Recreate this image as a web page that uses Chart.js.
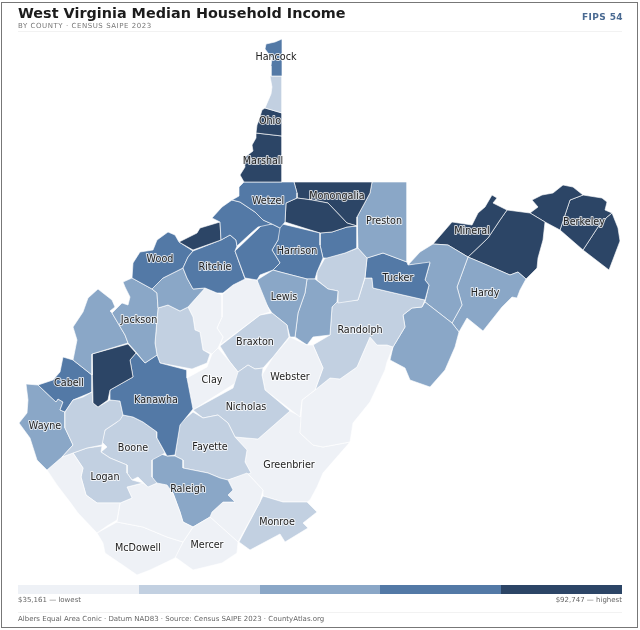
<!DOCTYPE html>
<html>
<head>
<meta charset="utf-8">
<title>West Virginia Median Household Income</title>
<script src="https://cdn.jsdelivr.net/npm/chart.js@4/dist/chart.umd.min.js"></script>
<style>
  html, body { margin: 0; padding: 0; background: #fff; }
  body { width: 640px; height: 630px; position: relative; overflow: hidden; font-family: "DejaVu Sans", sans-serif; }
  #frame { position: absolute; left: 1px; top: 2px; width: 635px; height: 624px; border: 1px solid #777; }
  #map { position: absolute; left: 0; top: 0; }
  .txt { position: absolute; white-space: nowrap; }
  #title { left: 18px; top: 5px; font-size: 14.4px; font-weight: bold; color: #1c1c1c; }
  #sub { left: 18px; top: 22px; font-size: 7px; letter-spacing: .55px; color: #777; }
  #fips { right: 17px; top: 12px; font-size: 9px; font-weight: bold; letter-spacing: .4px; color: #4a6a92; }
  .rule { position: absolute; left: 18px; width: 604px; height: 1px; background: #f2f2f2; }
  #ramp { position: absolute; left: 18px; top: 585px; width: 604px; height: 9px; display: flex; }
  #ramp span { flex: 1; }
  #low { left: 18px; top: 596px; font-size: 7px; color: #666; }
  #high { right: 18px; top: 596px; font-size: 7px; color: #666; }
  #foot { left: 18px; top: 615px; font-size: 7px; color: #666; }
</style>
</head>
<body>
<canvas id="map" width="640" height="630"></canvas>
<div id="frame"></div>
<div class="txt" id="title">West Virginia Median Household Income</div>
<div class="txt" id="sub">BY COUNTY · CENSUS SAIPE 2023</div>
<div class="txt" id="fips">FIPS 54</div>
<div class="rule" style="top:31px"></div>
<div id="ramp"></div>
<div class="txt" id="low">$35,161 — lowest</div>
<div class="txt" id="high">$92,747 — highest</div>
<div class="rule" style="top:612px"></div>
<div class="txt" id="foot">Albers Equal Area Conic · Datum NAD83 · Source: Census SAIPE 2023 · CountyAtlas.org</div>

<script>
// income class colours, lowest to highest
const CLASS_COLORS = ['#eef1f6', '#c2d0e1', '#8aa7c7', '#5379a6', '#2c4566'];

// county outlines in map units
const HANCOCK = [282,39, 275,42, 266,44, 265,49, 268,53, 272,58, 271,66, 271,76, 282,76];
const BROOKE = [270,76, 282,76, 282,113, 265,108, 271,94, 272,87];
const OHIO = [262,110, 265,108, 282,113, 282,136, 256,133, 257,125, 259,120];
const MARSHALL = [256,133, 282,136, 282,182, 244,182, 240,175, 245,167, 244,158, 253,151, 252,145, 256,138];
const WETZEL = [244,182, 294,182, 297,193, 297,198, 286,203, 285,222, 280,228, 272,224, 263,220, 255,212, 240,202, 232,200, 239,196, 239,187];
const TYLER = [232,200, 240,202, 255,212, 263,220, 272,224, 258,227, 250,234, 237,246, 236,240, 230,235, 221,240, 220,222, 212,218, 222,207];
const PLEASANTS = [220,222, 221,240, 193,250, 179,242, 197,233, 200,228];
const DODDRIDGE = [235,251, 257,230, 263,224, 272,224, 280,228, 278,240, 272,250, 280,263, 273,270, 260,275, 257,280, 245,278];
const RITCHIE = [193,251, 221,240, 230,235, 236,240, 237,246, 235,251, 245,279, 233,285, 223,293, 217,293, 205,288, 193,289, 187,278, 183,268, 188,257];
const WOOD = [179,242, 193,251, 188,257, 183,268, 163,278, 152,289, 132,278, 133,263, 140,252, 153,250, 157,240, 168,232, 175,235];
const WIRT = [183,268, 187,278, 193,289, 205,288, 188,307, 180,311, 168,305, 158,308, 157,293, 152,289, 163,278];
const JACKSON = [123,282, 132,278, 152,289, 157,293, 158,308, 155,343, 157,355, 145,363, 136,352, 128,343, 125,335, 112,313, 122,303, 128,305, 130,297, 125,287];
const MASON = [98,289, 103,293, 112,300, 115,307, 110,311, 112,313, 125,335, 128,343, 92,354, 92,375, 73,360, 77,340, 73,327, 83,312, 88,298];
const PUTNAM = [92,354, 128,344, 136,353, 130,360, 133,377, 110,390, 108,400, 98,407, 93,403];
const KANAWHA = [136,353, 145,363, 157,355, 160,363, 187,370, 187,378, 193,409, 180,425, 175,455, 167,456, 157,438, 157,432, 143,422, 133,417, 123,415, 120,401, 110,400, 110,390, 133,377, 130,360];
const LINCOLN = [92,392, 93,403, 98,407, 110,400, 120,401, 123,415, 120,420, 105,430, 102,445, 87,448, 73,453, 62,457, 73,445, 65,428, 65,412, 73,400, 83,397];
const CABELL = [63,357, 73,360, 92,375, 92,392, 73,400, 65,412, 60,410, 63,402, 58,399, 56,402, 38,385, 53,380, 60,372];
const WAYNE = [26,384, 38,385, 56,402, 58,399, 63,402, 60,410, 65,412, 65,428, 73,445, 62,457, 47,470, 37,460, 30,438, 19,423, 27,413, 28,400];
const MINGO = [47,470, 62,457, 73,453, 83,468, 81,477, 86,495, 97,503, 120,503, 117,520, 107,526, 97,533, 78,513, 70,502, 57,485];
const LOGAN = [73,453, 87,448, 102,446, 101,452, 110,458, 127,465, 127,473, 132,480, 143,483, 127,487, 132,498, 120,503, 97,503, 86,495, 81,477, 83,468];
const BOONE = [123,415, 133,417, 143,422, 157,432, 157,438, 165,453, 152,460, 152,477, 157,483, 148,487, 138,477, 132,480, 127,473, 127,465, 110,458, 101,452, 107,447, 102,442, 105,430, 117,422];
const WYOMING = [127,487, 143,483, 148,487, 157,483, 167,485, 173,493, 180,512, 183,522, 193,527, 183,542, 167,537, 143,527, 117,522, 120,503, 132,498];
const MCDOWELL = [97,533, 117,522, 143,527, 167,537, 183,542, 175,558, 150,570, 137,575, 127,568, 105,553, 103,543];
const MERCER = [193,527, 210,517, 238,542, 237,553, 222,563, 193,570, 175,557, 183,542];
const RALEIGH = [152,457, 158,453, 167,456, 175,456, 183,460, 183,468, 208,473, 220,478, 228,480, 233,490, 228,495, 235,502, 223,502, 212,512, 210,517, 193,527, 183,522, 180,512, 173,493, 165,485, 157,485, 152,477];
const SUMMERS = [228,480, 247,473, 263,490, 260,502, 238,542, 210,517, 212,512, 223,502, 235,502, 228,495, 233,490];
const MONROE = [263,496, 283,502, 307,502, 317,512, 303,523, 308,528, 285,542, 280,534, 250,550, 239,542];
const FAYETTE = [193,412, 203,418, 218,415, 228,423, 235,437, 247,450, 245,462, 251,473, 228,480, 220,478, 208,473, 183,468, 183,460, 175,456, 180,423];
const NICHOLAS = [193,410, 233,388, 238,372, 248,365, 255,369, 263,368, 262,375, 265,390, 290,411, 258,439, 235,437, 228,423, 218,415, 203,418];
const CLAY = [187,378, 207,367, 212,354, 218,348, 230,362, 238,372, 245,377, 193,410];
const ROANE = [158,308, 168,305, 180,311, 188,307, 193,317, 195,330, 200,332, 203,350, 210,354, 207,363, 192,369, 160,363, 157,355, 155,343];
const CALHOUN = [188,307, 205,288, 217,293, 222,295, 222,317, 217,328, 223,337, 218,348, 212,354, 203,350, 200,332, 195,330, 193,317];
const GILMER = [222,295, 233,285, 245,279, 257,280, 270,312, 260,315, 220,345, 223,337, 217,328, 222,317];
const BRAXTON = [220,346, 260,315, 272,313, 287,325, 289,337, 273,357, 263,368, 255,369, 248,365, 238,372, 230,362];
const WEBSTER = [290,337, 307,345, 313,345, 323,368, 315,390, 302,400, 300,417, 265,390, 262,375, 273,357];
const LEWIS = [257,280, 273,270, 280,272, 307,279, 305,293, 298,313, 295,337, 290,337, 287,325, 272,313, 260,295];
const UPSHUR = [307,279, 315,279, 328,289, 338,291, 337,302, 332,307, 330,335, 313,337, 307,345, 295,337, 298,313, 305,293];
const HARRISON = [278,223, 320,233, 320,245, 323,258, 317,272, 315,279, 307,279, 280,272, 273,270, 280,263, 272,250, 278,240];
const MARION = [286,203, 297,198, 312,200, 328,203, 347,223, 357,226, 347,227, 332,232, 320,233, 285,222];
const MONONGALIA = [294,182, 372,182, 370,193, 357,217, 357,226, 347,223, 328,203, 312,200, 297,198, 297,193];
const TAYLOR = [320,233, 332,232, 347,227, 357,226, 357,248, 345,253, 327,258, 323,258, 320,245];
const PRESTON = [372,182, 407,182, 407,262, 383,253, 367,258, 358,248, 357,217, 370,193];
const BARBOUR = [325,258, 345,253, 358,248, 367,258, 365,277, 358,300, 338,303, 338,291, 328,289, 317,280, 317,272];
const TUCKER = [367,258, 383,253, 407,262, 408,265, 430,262, 425,280, 429,285, 425,300, 403,295, 373,288, 372,278, 365,278];
const RANDOLPH = [365,278, 372,278, 373,288, 403,295, 425,300, 422,307, 412,308, 403,315, 405,327, 393,347, 387,345, 377,345, 370,337, 363,353, 357,367, 340,379, 330,378, 315,390, 323,368, 313,345, 330,335, 332,307, 337,302, 358,300];
const POCAHONTAS = [370,337, 377,345, 387,345, 393,347, 387,362, 385,370, 370,402, 353,423, 350,442, 323,447, 313,445, 300,433, 302,400, 315,390, 330,378, 340,379, 357,367, 363,353];
const GREENBRIER = [290,411, 302,417, 300,433, 313,445, 323,447, 350,442, 323,473, 317,487, 310,500, 307,502, 283,502, 263,496, 263,490, 247,473, 251,473, 245,462, 247,450, 235,437, 258,439];
const PENDLETON = [425,302, 452,323, 459,332, 455,347, 445,370, 430,387, 410,380, 405,368, 390,360, 393,347, 405,327, 403,315, 412,308, 422,307];
const GRANT = [408,265, 420,252, 433,244, 448,245, 468,257, 457,287, 462,305, 452,323, 425,302, 429,285, 425,280, 430,263];
const HARDY = [468,257, 487,265, 510,275, 518,272, 526,279, 520,290, 517,298, 512,297, 502,307, 483,331, 467,318, 459,332, 452,323, 462,305, 457,287];
const MINERAL = [433,244, 452,222, 472,225, 478,213, 485,207, 492,195, 497,198, 493,203, 507,210, 500,220, 488,238, 468,257, 448,245];
const HAMPSHIRE = [507,210, 530,213, 545,222, 543,240, 538,258, 537,268, 526,279, 518,272, 510,275, 487,265, 468,257, 488,238, 500,220];
const MORGAN = [530,213, 538,207, 532,200, 542,195, 553,193, 563,185, 573,187, 583,195, 570,200, 560,230, 545,222];
const BERKELEY = [583,195, 602,198, 607,202, 605,210, 612,213, 607,217, 598,227, 583,250, 560,230, 570,200];
const JEFFERSON = [612,213, 618,228, 620,241, 609,270, 583,250, 598,227, 607,217];

const OUTLINES = [
  HANCOCK, BROOKE, OHIO, MARSHALL, WETZEL, TYLER, PLEASANTS, DODDRIDGE, RITCHIE, WOOD, WIRT,
  JACKSON, MASON, PUTNAM, KANAWHA, LINCOLN, CABELL, WAYNE, MINGO, LOGAN, BOONE, WYOMING,
  MCDOWELL, MERCER, RALEIGH, SUMMERS, MONROE, FAYETTE, NICHOLAS, CLAY, ROANE, CALHOUN, GILMER,
  BRAXTON, WEBSTER, LEWIS, UPSHUR, HARRISON, MARION, MONONGALIA, TAYLOR, PRESTON, BARBOUR,
  TUCKER, RANDOLPH, POCAHONTAS, GREENBRIER, PENDLETON, GRANT, HARDY, MINERAL, HAMPSHIRE,
  MORGAN, BERKELEY, JEFFERSON,
];

// income class of each county, same order as OUTLINES
const INCOME_CLASS = [
  3, 1, 4, 4, 3, 3, 4, 3, 3, 3, 2,
  2, 2, 4, 3, 1, 3, 2, 0, 1, 1, 0,
  0, 0, 2, 0, 1, 1, 1, 0, 1, 0, 0,
  1, 0, 2, 2, 3, 4, 4, 3, 2, 1,
  3, 1, 0, 0, 2, 2, 2, 4, 4,
  4, 4, 4,
];

// labelled counties and where their names sit
const LABEL_NAMES = ['Hancock', 'Ohio', 'Marshall', 'Wetzel', 'Monongalia', 'Preston', 'Mineral', 'Berkeley', 'Wood', 'Ritchie', 'Harrison', 'Tucker', 'Hardy', 'Lewis', 'Jackson', 'Randolph', 'Braxton', 'Cabell', 'Clay', 'Webster', 'Kanawha', 'Nicholas', 'Wayne', 'Boone', 'Fayette', 'Greenbrier', 'Logan', 'Raleigh', 'Monroe', 'McDowell', 'Mercer'];
const LABEL_X = [276, 270, 263, 268, 337, 384, 472, 584, 160, 215, 297, 398, 485, 284, 139, 360, 255, 69, 212, 290, 156, 246, 45, 133, 210, 289, 105, 188, 277, 138, 207];
const LABEL_Y = [57, 121, 161, 201, 196, 221, 231, 222, 259, 267, 251, 278, 293, 297, 320, 330, 342, 383, 380, 377, 400, 407, 426, 448, 447, 465, 477, 489, 522, 548, 545];

function toPoints(flat) {
  const pts = [];
  for (let i = 0; i < flat.length; i += 2) pts.push({ x: flat[i], y: flat[i + 1] });
  pts.push({ x: flat[0], y: flat[1] });
  return pts;
}

const countyLabels = {
  id: 'countyLabels',
  afterDatasetsDraw(chart) {
    const { ctx, scales } = chart;
    ctx.save();
    ctx.font = '9.6px "DejaVu Sans"';
    ctx.textAlign = 'center';
    ctx.textBaseline = 'middle';
    ctx.lineJoin = 'round';
    LABEL_NAMES.forEach((name, i) => {
      const x = scales.x.getPixelForValue(LABEL_X[i]);
      const y = scales.y.getPixelForValue(LABEL_Y[i]);
      ctx.lineWidth = 2;
      ctx.strokeStyle = 'rgba(255,255,255,0.75)';
      ctx.strokeText(name, x, y);
      ctx.fillStyle = '#222';
      ctx.fillText(name, x, y);
    });
    ctx.restore();
  },
};

new Chart(document.getElementById('map'), {
  type: 'scatter',
  data: {
    datasets: OUTLINES.map((flat, i) => ({
      data: toPoints(flat),
      showLine: true,
      fill: 'shape',
      tension: 0,
      pointRadius: 0,
      borderWidth: 0.7,
      borderColor: 'rgba(255,255,255,0.9)',
      backgroundColor: CLASS_COLORS[INCOME_CLASS[i]],
    })),
  },
  options: {
    responsive: false,
    animation: false,
    devicePixelRatio: 1,
    layout: { padding: 0 },
    events: [],
    plugins: { legend: { display: false }, tooltip: { enabled: false } },
    scales: {
      x: { type: 'linear', min: 0, max: 640, display: false },
      y: { type: 'linear', min: 0, max: 630, reverse: true, display: false },
    },
  },
  plugins: [countyLabels],
});

const ramp = document.getElementById('ramp');
CLASS_COLORS.forEach((c) => {
  const s = document.createElement('span');
  s.style.background = c;
  ramp.appendChild(s);
});
</script>
</body>
</html>
